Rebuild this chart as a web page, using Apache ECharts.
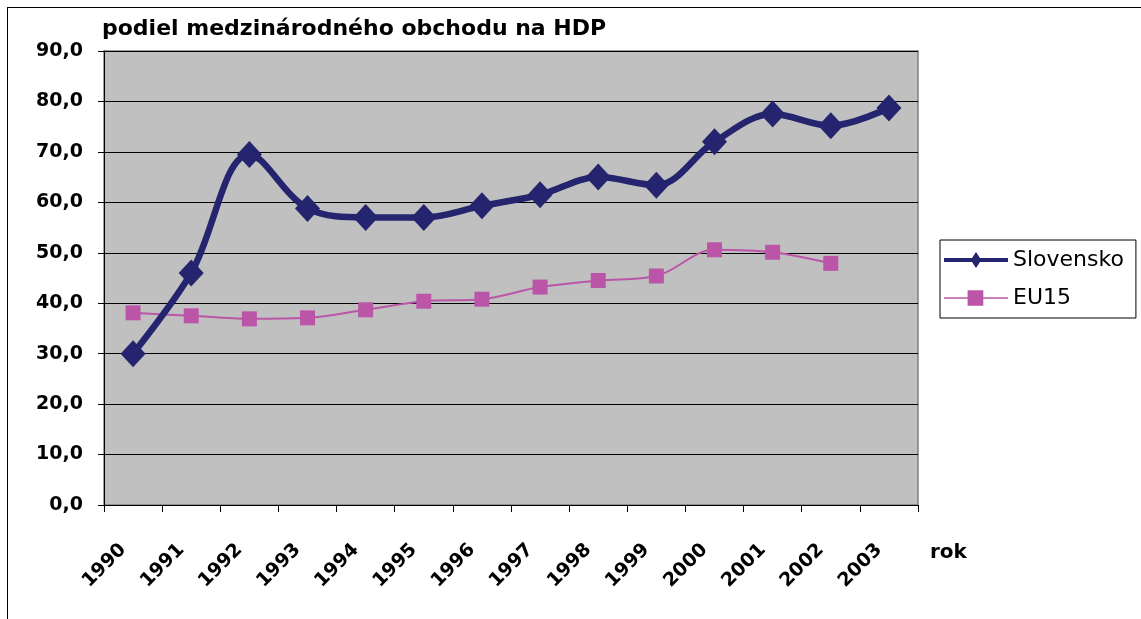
<!DOCTYPE html>
<html>
<head>
<meta charset="utf-8">
<script src="https://cdn.jsdelivr.net/npm/echarts@6/dist/echarts.min.js"></script>
<style>
html,body{margin:0;padding:0;background:#fff;}
#frame{position:absolute;left:7px;top:7px;width:1140px;height:620px;border-left:1px solid #000;border-top:1px solid #000;box-sizing:border-box;}
#c{position:absolute;left:0;top:0;width:1141px;height:619px;}
</style>
</head>
<body>
<div id="frame"></div>
<div id="c"></div>
<script>
const years = ['1990','1991','1992','1993','1994','1995','1996','1997','1998','1999','2000','2001','2002','2003'];
const slovensko = [30.0, 46.0, 69.5, 58.8, 57.0, 57.0, 59.3, 61.5, 65.0, 63.4, 72.0, 77.5, 75.2, 78.7];
const eu15 = [38.1, 37.5, 36.9, 37.1, 38.7, 40.4, 40.8, 43.2, 44.5, 45.4, 50.6, 50.1, 47.9, null];
const yTicks = [0, 90, 10];

const FONT = '"DejaVu Sans", sans-serif';
const chart = echarts.init(document.getElementById('c'), null, {renderer: 'canvas'});
chart.setOption({
  animation: false,
  backgroundColor: 'transparent',
  title: {
    text: 'podiel medzinárodného obchodu na HDP',
    left: 97, top: 13,
    textStyle: {fontFamily: FONT, fontWeight: 'bold', fontSize: 22, color: '#000'}
  },
  legend: {
    orient: 'vertical',
    left: 940, top: 240,
    width: 200,
    padding: [9, 12, 9, 4],
    itemGap: 16,
    itemWidth: 64, itemHeight: 16,
    borderColor: '#000', borderWidth: 1,
    backgroundColor: '#fff',
    textStyle: {fontFamily: FONT, fontSize: 22, color: '#000', padding: [0, 0, 0, 0]},
    data: [
      {name: 'Slovensko', icon: 'path://M0,6 L28,6 L32,0 L36,6 L64,6 L64,10 L36,10 L32,16 L28,10 L0,10 Z'},
      {name: 'EU15', icon: 'path://M3,7.3 L24,7.3 L24,1 L38,1 L38,7.3 L60,7.3 L60,8.7 L38,8.7 L38,15 L24,15 L24,8.7 L3,8.7 Z'}
    ]
  },
  grid: {left: 104, top: 51, width: 814, height: 454, show: true, backgroundColor: '#C0C0C0', borderColor: '#808080', borderWidth: 1.5},
  xAxis: {
    type: 'category',
    data: years,
    boundaryGap: true,
    name: 'rok',
    nameLocation: 'end',
    nameGap: 12,
    nameTextStyle: {fontFamily: FONT, fontWeight: 'bold', fontSize: 20, color: '#000', verticalAlign: 'top', padding: [38, 0, 0, 0]},
    axisLine: {lineStyle: {color: '#000', width: 1}},
    axisTick: {show: true, length: 7, lineStyle: {color: '#000'}, alignWithLabel: false},
    axisLabel: {rotate: 45, fontFamily: FONT, fontWeight: 'bold', fontSize: 19, color: '#000', margin: 32, interval: 0, padding: [0, 14, 0, 0]},
    splitLine: {show: false}
  },
  yAxis: {
    type: 'value',
    min: yTicks[0], max: yTicks[1], interval: yTicks[2],
    axisLine: {show: true, lineStyle: {color: '#000', width: 1}},
    axisTick: {show: true, length: 6, lineStyle: {color: '#000'}},
    axisLabel: {fontFamily: FONT, fontWeight: 'bold', fontSize: 19, color: '#000', margin: 21,
      formatter: v => v.toFixed(1).replace('.', ',')},
    splitLine: {show: true, lineStyle: {color: '#000', width: 1}}
  },
  series: [
    {
      name: 'Slovensko', type: 'line', data: slovensko, smooth: 0.35,
      symbol: 'diamond', symbolSize: [25, 27],
      lineStyle: {color: '#24246F', width: 6.5},
      itemStyle: {color: '#24246F'},
      z: 3
    },
    {
      name: 'EU15', type: 'line', data: eu15, smooth: 0.35,
      symbol: 'rect', symbolSize: 15,
      lineStyle: {color: '#BB55A8', width: 2},
      itemStyle: {color: '#BB55A8'},
      z: 2
    }
  ]
});
</script>
</body>
</html>
